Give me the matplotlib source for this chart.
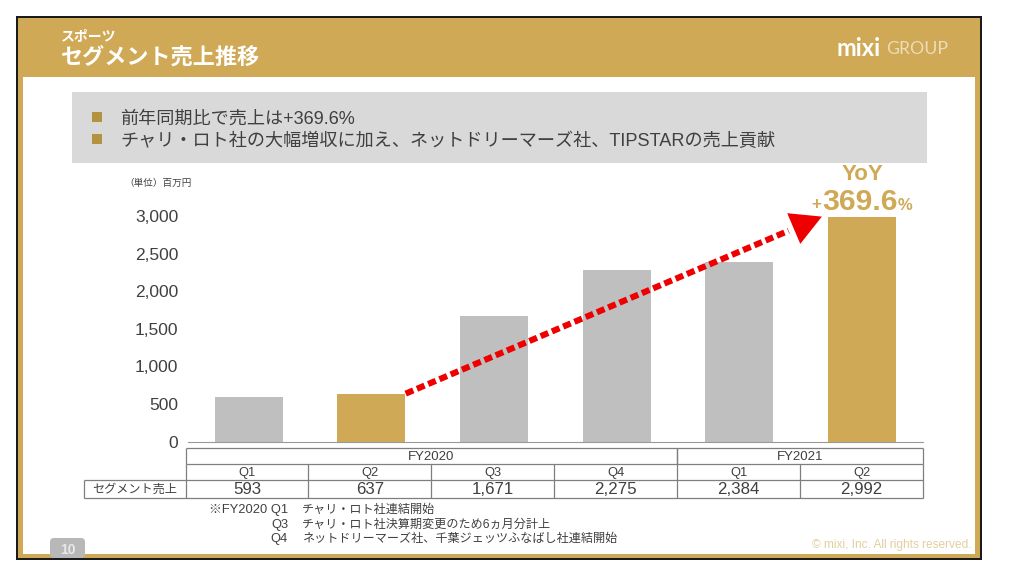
import matplotlib
matplotlib.use("Agg")
import matplotlib.pyplot as plt
from matplotlib.patches import Rectangle, FancyBboxPatch

# latin z Liberation, japonski z Noto
plt.rcParams['font.family'] = ['Liberation Sans', 'Noto Sans CJK JP', 'DejaVu Sans']

W, H = 1024, 577
GOLD = "#cfa955"
GRAY = "#bfbfbf"
TEXT = "#404040"
LINE = "#7f7f7f"

# dane
quarters = ["Q1", "Q2", "Q3", "Q4", "Q1", "Q2"]
sales = [593, 637, 1671, 2275, 2384, 2992]
bar_colors = [GRAY, GOLD, GRAY, GRAY, GRAY, GOLD]
y_ticks = [0, 500, 1000, 1500, 2000, 2500, 3000]
years = ["FY2020", "FY2021"]
year_spans = [(0, 4), (4, 6)]
row_label = "セグメント売上"
bullets = ["前年同期比で売上は+369.6%",
           "チャリ・ロト社の大幅増収に加え、ネットドリーマーズ社、TIPSTARの売上貢献"]
notes = [("※FY2020 Q1", "チャリ・ロト社連結開始"),
         ("Q3", "チャリ・ロト社決算期変更のため6ヵ月分計上"),
         ("Q4", "ネットドリーマーズ社、千葉ジェッツふなばし社連結開始")]

fig = plt.figure(figsize=(W / 100, H / 100), dpi=100, facecolor="white")

# warstwa w pikselach: ramka, naglowek, tabela
bg = fig.add_axes([0, 0, 1, 1])
bg.set_xlim(0, W)
bg.set_ylim(H, 0)
bg.axis("off")


def box(x0, y0, x1, y1, color, z=1):
    bg.add_patch(Rectangle((x0, y0), x1 - x0, y1 - y0, facecolor=color, edgecolor="none", zorder=z))


box(16, 16, 982, 559.5, "#1a1a1a")
box(17.5, 18, 980, 558, GOLD)
box(23, 77, 975, 554, "white")
box(72, 92, 927, 163, "#d9d9d9")

# zakladka z numerem strony
bg.add_patch(FancyBboxPatch((50, 538), 35, 20, boxstyle="round,pad=0,rounding_size=4",
                            facecolor="#b8b8b8", edgecolor="none", zorder=2))
bg.text(68, 550, "10", color="#e8e8e8", fontsize=10, fontweight="bold", ha="center", va="center", zorder=4)

bg.text(61, 36, "スポーツ", color="white", fontsize=10, fontweight="bold", ha="left", va="center")
bg.text(61, 58, "セグメント売上推移", color="white", fontsize=15.9, fontweight="bold", ha="left", va="center")
bg.text(836, 48, "mixi", color="white", fontsize=17, fontweight="bold", ha="left", va="center",
        family=["Lato", "DejaVu Sans"])
bg.text(886, 49, "GROUP", color="#ecdcb8", fontsize=12.7, ha="left", va="center", family=["Lato", "DejaVu Sans"])

for text, y, base in zip(bullets, [117, 139], [124, 146]):
    box(92, y - 5, 102, y + 5, "#b2933f", 2)
    bg.text(120, base, text, color=TEXT, fontsize=13.05, ha="left", va="baseline", zorder=3)

bg.text(124, 183, "（単位）百万円", color=TEXT, fontsize=6.9, ha="left", va="center")
bg.text(862, 175, "YoY", color=GOLD, fontsize=16, fontweight="bold", ha="center", va="center")
bg.text(816, 205, "+", color=GOLD, fontsize=12, fontweight="bold", ha="center", va="center")
bg.text(860, 202, "369.6", color=GOLD, fontsize=21.7, fontweight="bold", ha="center", va="center")
bg.text(905, 205, "%", color=GOLD, fontsize=12, fontweight="bold", ha="center", va="center")

bg.text(971, 545, "© mixi, Inc. All rights reserved.", color="#e3cf9f", fontsize=8.6, ha="right", va="center")

# wykres slupkowy
left, right, top, bottom = 187.5, 923, 216, 441.5
ax = fig.add_axes([left / W, 1 - bottom / H, (right - left) / W, (bottom - top) / H], facecolor="none")
ax.bar(range(len(sales)), sales, width=0.555, color=bar_colors, zorder=2)
ax.set_xlim(-0.5, 5.5)
ax.set_ylim(0, 3000)
ax.set_yticks(y_ticks)
ax.set_yticklabels([f"{v:,}" for v in y_ticks], fontsize=12.5, color=TEXT)
ax.set_xticks([])
ax.tick_params(axis="y", length=0, pad=6.5)
for side in ["top", "right", "left"]:
    ax.spines[side].set_visible(False)
ax.spines["bottom"].set_color("#999999")

# czerwona kropkowana strzalka od Q2 FY2020 do Q2 FY2021
x_a, y_a = 1.28, sales[1]
x_b, y_b = 4.675, sales[5]
neck = 0.92
ax.plot([x_a, x_a + (x_b - x_a) * neck], [y_a, y_a + (y_b - y_a) * neck], color="#ee0000", lw=4.4,
        linestyle=(0, (1.35, 0.65)), dash_capstyle="butt", clip_on=False, zorder=5)
ax.annotate("", xy=(x_b, y_b), xytext=(x_a + (x_b - x_a) * 0.88, y_a + (y_b - y_a) * 0.88),
            annotation_clip=False, zorder=6,
            arrowprops=dict(arrowstyle="-|>,head_length=1.1,head_width=0.6", facecolor="#ee0000",
                            edgecolor="#ee0000", lw=0, shrinkA=0, shrinkB=0, mutation_scale=20))

# tabela pod wykresem
cell_w = (right - 185.5) / 6
xs = [185.5 + i * cell_w for i in range(7)]
y0, y1, y2, y3 = 448, 464, 480, 497.5


def hline(x0, x1, y):
    bg.plot([x0, x1], [y, y], color=LINE, lw=0.9, zorder=3, solid_capstyle="butt")


def vline(x, a, b):
    bg.plot([x, x], [a, b], color=LINE, lw=0.9, zorder=3, solid_capstyle="butt")


hline(xs[0], xs[6], y0)
hline(xs[0], xs[6], y1)
hline(83.5, xs[6], y2)
hline(83.5, xs[6], y3)
vline(83.5, y2, y3)
for x in xs:
    vline(x, y1, y3)
for (a, b), year in zip(year_spans, years):
    vline(xs[a], y0, y1)
    vline(xs[b], y0, y1)
    bg.text((xs[a] + xs[b]) / 2, (y0 + y1) / 2 + 1, year, color=TEXT, fontsize=9.5, ha="center", va="center")
for i, (q, v) in enumerate(zip(quarters, sales)):
    cx = (xs[i] + xs[i + 1]) / 2
    bg.text(cx, (y1 + y2) / 2 + 1, q, color=TEXT, fontsize=9.3, ha="center", va="center")
    bg.text(cx, (y2 + y3) / 2 + 1, f"{v:,}", color=TEXT, fontsize=12.2, ha="center", va="center")
bg.text(134.5, (y2 + y3) / 2 + 1, row_label, color=TEXT, fontsize=8.75, ha="center", va="center")

# przypisy
for (label, note), base in zip(notes, [513, 528, 542]):
    bg.text(288, base, label, color=TEXT, fontsize=9.3, ha="right", va="baseline")
    bg.text(302, base, note, color=TEXT, fontsize=8.7, ha="left", va="baseline")

fig.savefig("out.png", dpi=100)
